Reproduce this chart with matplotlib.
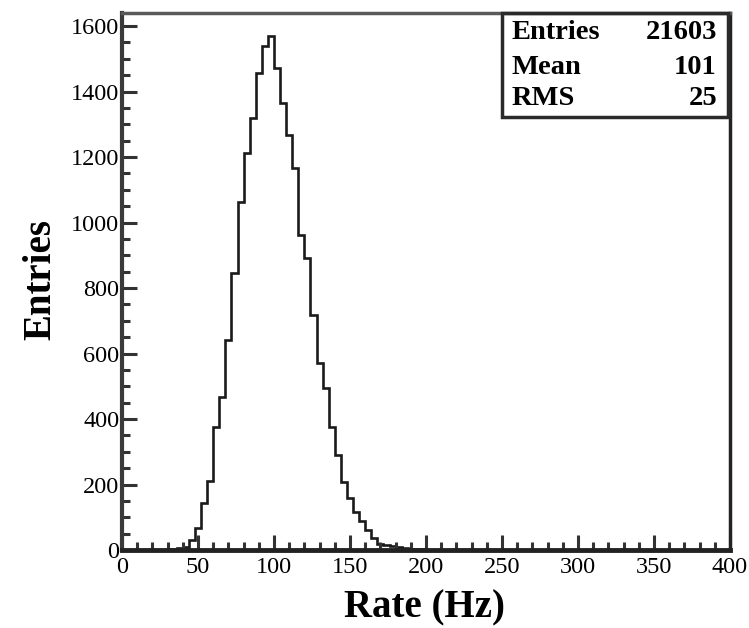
import numpy as np
import matplotlib.pyplot as plt
from matplotlib.patches import Rectangle
from matplotlib.ticker import MultipleLocator

# histogram: 4 Hz bins, first filled bin starts at 32 Hz
bin_width = 4
bin_start = 32
counts = [3, 6, 10, 30, 67, 145, 210, 375, 467, 641, 846, 1063, 1212, 1319,
          1456, 1540, 1570, 1471, 1365, 1267, 1166, 962, 891, 717, 571, 495,
          375, 290, 208, 159, 116, 90, 62, 38, 18, 14, 12, 10, 6, 4, 3, 2]

stat_names = ["Entries", "Mean", "RMS"]
stat_values = ["21603", "101", "25"]

x_label = "Rate (Hz)"
y_label = "Entries"

edges = bin_start + bin_width * np.arange(len(counts) + 1)

serif = "Liberation Serif"
fig = plt.figure(figsize=(7.49, 6.28), dpi=100)
ax = fig.add_axes([0.1629, 0.1242, 0.8117, 0.8551])

ax.stairs(counts, edges, color="#1a1a1a", lw=1.9)

ax.set_xlim(0, 400)
ax.set_ylim(0, 1640)
ax.xaxis.set_major_locator(MultipleLocator(50))
ax.xaxis.set_minor_locator(MultipleLocator(10))
ax.yaxis.set_major_locator(MultipleLocator(200))
ax.yaxis.set_minor_locator(MultipleLocator(50))
ax.tick_params(which="both", direction="in", color="#333333", width=2.2,
               top=False, right=False)
ax.tick_params(which="major", length=11)
ax.tick_params(which="minor", length=6)
ax.tick_params(axis="x", pad=5)
ax.tick_params(axis="y", pad=2)
for lab in ax.get_xticklabels() + ax.get_yticklabels():
    lab.set_fontfamily(serif)
    lab.set_fontsize(17.5)

ax.spines["left"].set_linewidth(3)
ax.spines["left"].set_color("#3a3a3a")
ax.spines["bottom"].set_linewidth(3.5)
ax.spines["bottom"].set_color("#222222")
ax.spines["top"].set_linewidth(2.5)
ax.spines["top"].set_color("#5a5a5a")
ax.spines["right"].set_linewidth(2.5)
ax.spines["right"].set_color("#222222")

# stats box
ax.add_patch(Rectangle((0.625, 0.806), 0.3717, 0.194, transform=ax.transAxes,
                       fill=False, lw=2.5, ec="#2a2a2a", zorder=5,
                       clip_on=False))
rows_y = [0.9646, 0.8994, 0.8399]
for name, val, yy in zip(stat_names, stat_values, rows_y):
    ax.text(0.641, yy, name, transform=ax.transAxes, ha="left", va="center",
            fontfamily=serif, fontweight="bold", fontsize=20.5)
    ax.text(0.9786, yy, val, transform=ax.transAxes, ha="right", va="center",
            fontfamily=serif, fontweight="bold", fontsize=20.5)

fig.text(0.567, 0.032, x_label, ha="center", va="center", fontfamily=serif,
         fontweight="bold", fontsize=28)
fig.text(0.054, 0.555, y_label, ha="center", va="center", rotation=90,
         fontfamily=serif, fontweight="bold", fontsize=28)

fig.savefig("out.png", dpi=100)
